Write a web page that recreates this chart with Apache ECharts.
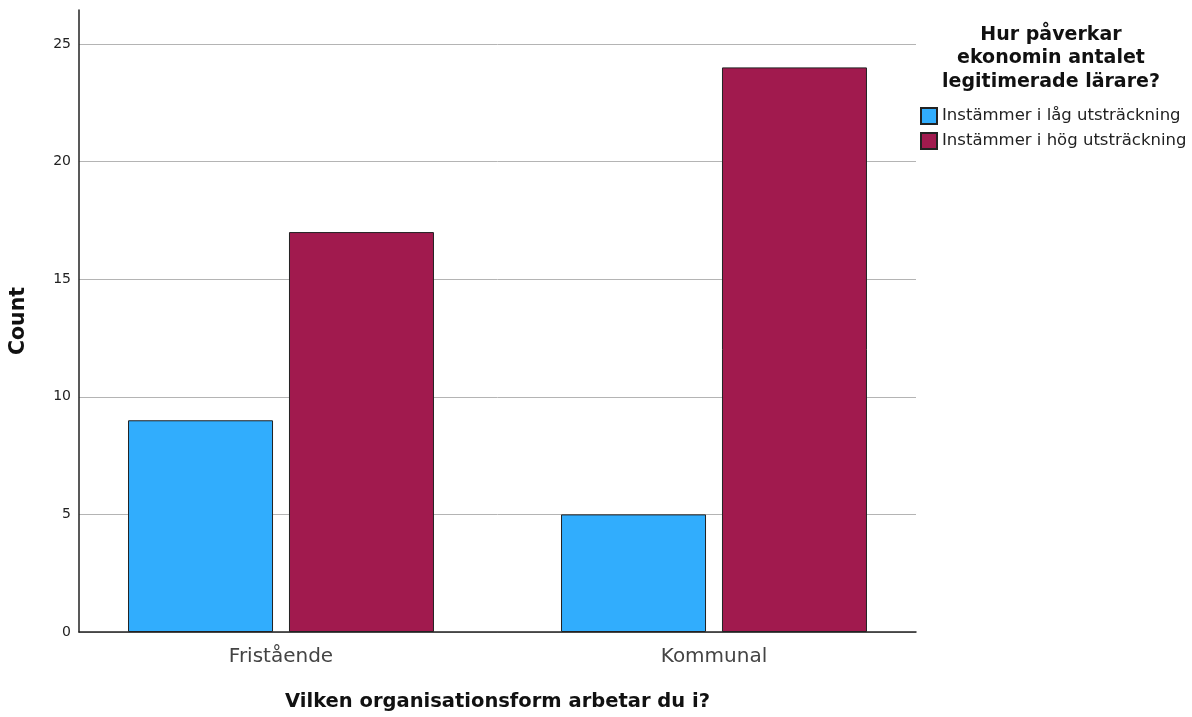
<!DOCTYPE html>
<html>
<head>
<meta charset="utf-8">
<script src="https://cdn.jsdelivr.net/npm/echarts@6/dist/echarts.min.js"></script>
<style>
html,body{margin:0;padding:0;background:#fff;}
#main{width:1192px;height:717px;}
</style>
</head>
<body>
<div id="main"></div>
<script>
// data
var categories = ['Fristående', 'Kommunal'];
var seriesNames = ['Instämmer i låg utsträckning', 'Instämmer i hög utsträckning'];
var lowValues = [9, 5];
var highValues = [17, 24];
var yTicks = [0, 5, 10, 15, 20, 25];

var colors = ['#31adfd', '#a11a4e'];
var font = '"DejaVu Sans", Verdana, sans-serif';

var chart = echarts.init(document.getElementById('main'));

function toPoints(vals) {
    return vals.map(function (v, i) { return [i, v]; });
}

chart.setOption({
    animation: false,
    grid: { left: 79, right: 276, top: 10, bottom: 83 },
    graphic: [{
        type: 'text',
        x: 1051, y: 23,
        style: {
            text: 'Hur påverkar\nekonomin antalet\nlegitimerade lärare?',
            textAlign: 'center',
            font: 'bold 19px ' + font,
            lineHeight: 23.5,
            fill: '#111'
        }
    }],
    legend: {
        orient: 'vertical',
        left: 920, top: 107,
        padding: 0,
        itemWidth: 16, itemHeight: 16, itemGap: 7,
        icon: 'rect',
        textStyle: { fontFamily: font, fontSize: 16.5, color: '#222', padding: [0, 0, 0, 0] },
        data: seriesNames
    },
    xAxis: {
        type: 'value',
        min: -0.4665, max: 1.4665,
        name: 'Vilken organisationsform arbetar du i?',
        nameLocation: 'middle', nameGap: 60,
        nameTextStyle: { fontFamily: font, fontSize: 19.5, fontWeight: 'bold', color: '#111' },
        axisLine: { show: true, onZero: false, lineStyle: { color: '#222', width: 1.5 } },
        axisTick: { show: false },
        splitLine: { show: false },
        axisLabel: {
            customValues: [0, 1],
            margin: 15,
            fontFamily: font, fontSize: 20, color: '#444',
            formatter: function (v) { return categories[Math.round(v)] || ''; }
        }
    },
    yAxis: {
        type: 'value',
        min: 0, max: 26.44, interval: 5,
        name: 'Count',
        nameLocation: 'middle', nameGap: 50,
        nameTextStyle: { fontFamily: font, fontSize: 20.5, fontWeight: 'bold', color: '#111' },
        axisLine: { show: true, onZero: false, lineStyle: { color: '#222', width: 1.5 } },
        axisTick: { show: false },
        axisLabel: {
            customValues: yTicks,
            margin: 8, fontFamily: font, fontSize: 14, color: '#222'
        },
        splitLine: { show: true, showMaxLine: false, lineStyle: { color: '#b4b4b4', width: 1 } }
    },
    series: [{
        name: seriesNames[0],
        type: 'bar',
        barWidth: 145,
        barGap: '11%',
        itemStyle: { color: colors[0], borderColor: '#222', borderWidth: 1 },
        data: toPoints(lowValues)
    }, {
        name: seriesNames[1],
        type: 'bar',
        barWidth: 145,
        barGap: '11%',
        itemStyle: { color: colors[1], borderColor: '#222', borderWidth: 1 },
        data: toPoints(highValues)
    }]
});
</script>
</body>
</html>
